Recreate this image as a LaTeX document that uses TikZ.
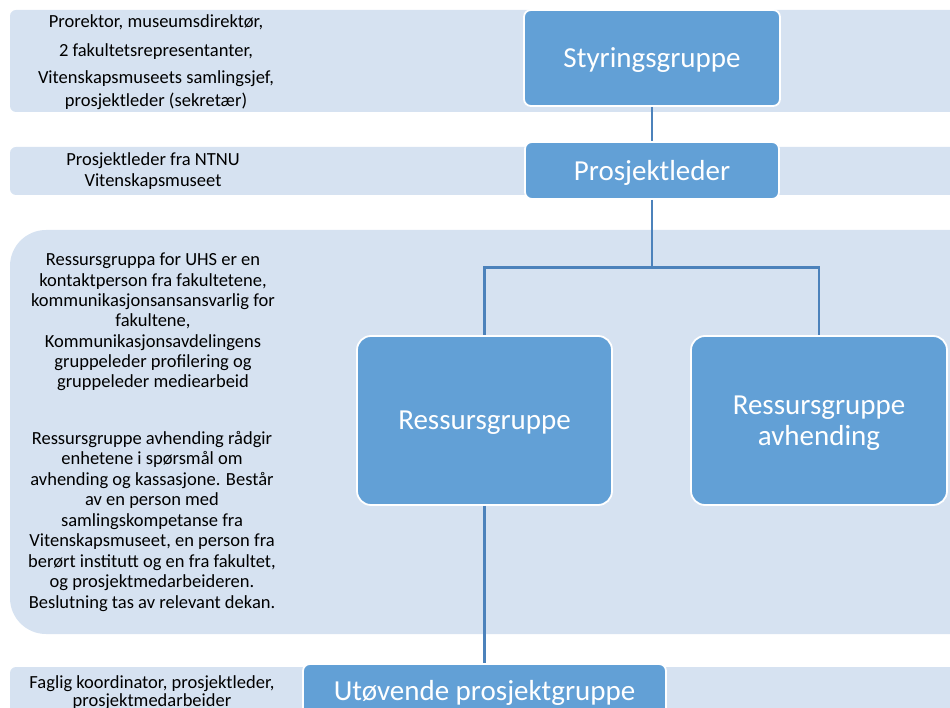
\documentclass[tikz,border=0pt]{standalone}
\usepackage{fontspec}
\setmainfont{Carlito}
\definecolor{bandblue}{RGB}{214,226,241}
\definecolor{boxblue}{RGB}{98,160,214}
\definecolor{linkblue}{RGB}{76,130,187}
\begin{document}
\begin{tikzpicture}[x=1pt,y=-1pt,
  band/.style={fill=bandblue},
  box/.style={rectangle, fill=boxblue, draw=white, line width=1.8pt, rounded corners=7pt,
    text=white, font=\fontsize{29}{32}\selectfont, align=center, inner sep=0pt, text depth=0pt},
  bigbox/.style={box, rounded corners=14pt},
  conn/.style={draw=linkblue, line width=2.8pt},
  note/.style={align=center, font=\fontsize{18.5}{20.3}\selectfont, inner sep=0pt, text=black}]
\useasboundingbox (0,0) rectangle (950,708);
\clip (0,0) rectangle (950,708);
% background bands
\fill[band, rounded corners=6pt] (10,10) rectangle (980,112);
\fill[band, rounded corners=6pt] (10,147) rectangle (980,195);
\fill[band, rounded corners=36pt] (10,230) rectangle (990,634);
\fill[band, rounded corners=6pt] (10,667) rectangle (980,740);
% notes
\node[note, font=\fontsize{18.5}{23}\selectfont] (n1) at (156,62.5)
  {Prorektor, museumsdirektør,\\[6pt] 2 fakultetsrepresentanter,\\[4pt] Vitenskapsmuseets samlingsjef,\\ prosjektleder (sekretær)};
\node[note, font=\fontsize{18.5}{21}\selectfont] (n2) at (153,171.5)
  {Prosjektleder fra NTNU\\ Vitenskapsmuseet};
\node[note] (n3) at (153,322)
  {Ressursgruppa for UHS er en\\ kontaktperson fra fakultetene,\\ kommunikasjonsansansvarlig for\\ fakultene,\\ Kommunikasjonsavdelingens\\ gruppeleder profilering og\\ gruppeleder mediearbeid};
\node[note, font=\fontsize{18.5}{20.5}\selectfont] (n4) at (152,521.5)
  {Ressursgruppe avhending rådgir\\ enhetene i spørsmål om\\ avhending og kassasjone. Består\\ av en person med\\ samlingskompetanse fra\\ Vitenskapsmuseet, en person fra\\ berørt institutt og en fra fakultet,\\ og prosjektmedarbeideren.\\ Beslutning tas av relevant dekan.};
\node[note, font=\fontsize{18.5}{18}\selectfont] (n5) at (152,693)
  {Faglig koordinator, prosjektleder,\\ prosjektmedarbeider};
% boxes
\node[box, minimum width=256pt, minimum height=96pt] (sty) at (652,58) {Styringsgruppe};
\node[box, minimum width=254pt, minimum height=57pt] (pl) at (652,170.5) {Prosjektleder};
\node[bigbox, minimum width=255pt, minimum height=169pt] (rg) at (484.5,420.5) {Ressursgruppe};
\node[bigbox, minimum width=256pt, minimum height=169pt] (rga) at (819,420.5) {Ressursgruppe\\[-1pt] avhending};
\node[box, minimum width=363pt, minimum height=52pt] (utp) at (484.5,690) {Utøvende prosjektgruppe};
% connectors
\draw[conn] (sty.south) -- (pl.north);
\draw[conn] (pl.south) -- ++(0,68) coordinate (j);
\draw[conn] (j) -| (rg.north);
\draw[conn] (j) -| (rga.north);
\draw[conn] (rg.south) -- (utp.north);
\end{tikzpicture}
\end{document}
